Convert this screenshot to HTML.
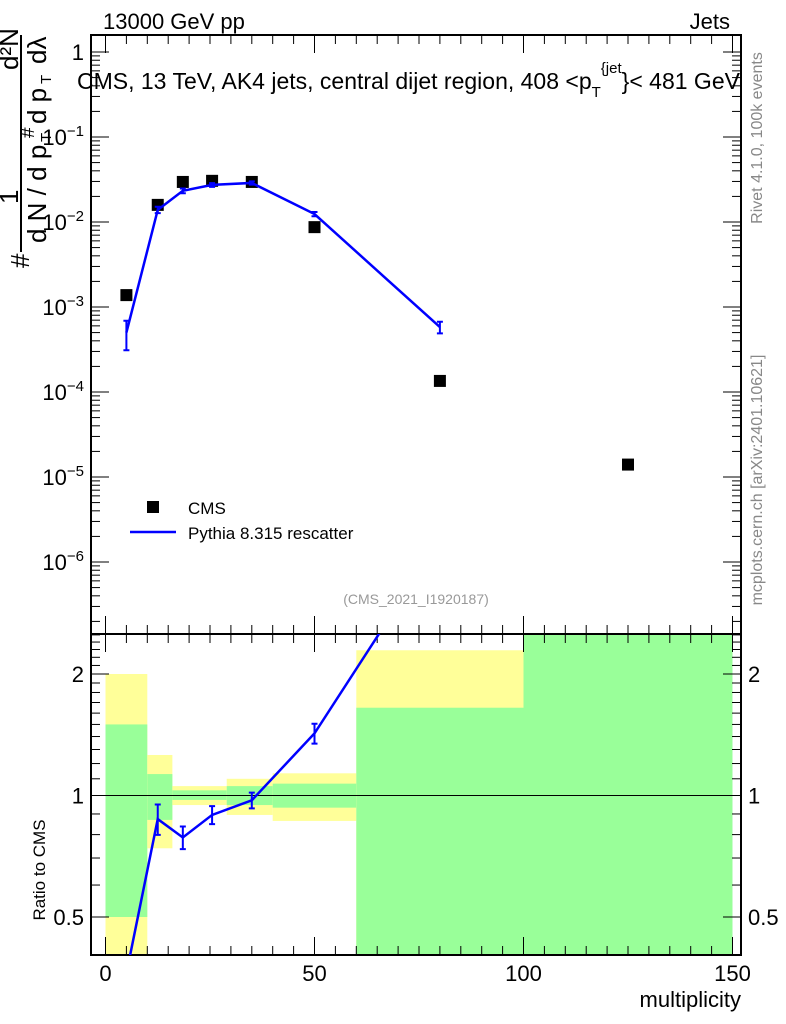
<!DOCTYPE html>
<html><head><meta charset="utf-8"><style>
body{margin:0;background:#fff}svg{display:block;font-family:"Liberation Sans",sans-serif}
</style></head><body>
<svg id="c" width="786" height="1024"></svg>
<script>
const cmsX=[5,12.5,18.5,25.5,35,50,80,125];
const cmsY=[1.38e-3,0.0159,0.0296,0.0305,0.0296,0.0087,1.35e-4,1.4e-5];
const pyX=[5,12.5,18.5,25.5,35,50,80];
const pyY=[5.0e-4,0.0139,0.0233,0.0273,0.0288,0.0124,5.8e-4];
const pyErr=[1.9e-4,0.0012,0.0015,0.0014,0.0013,0.0007,0.9e-4];
const binEdges=[0,10,16,29,40,60,100,150];
const yelLo=[0.3,0.74,0.947,0.895,0.865,0.3,0.3];
const yelHi=[2.0,1.26,1.055,1.10,1.135,2.29,3];
const grnLo=[0.5,0.87,0.975,0.947,0.933,0.3,0.3];
const grnHi=[1.5,1.13,1.03,1.055,1.07,1.65,3];
const xTicks=[0,50,100,150];
const yTopTicks=[0,-1,-2,-3,-4,-5,-6];
const ratioTicks=[0.5,1,2];

const NS="http://www.w3.org/2000/svg",svg=document.getElementById('c');
function el(t,a,p){const e=document.createElementNS(NS,t);for(const k in a)e.setAttribute(k,a[k]);(p||svg).appendChild(e);return e;}
const L=91,R=741,T=35,M=634,B=955;
const X=v=>105.5+v*4.18;
const YT=v=>52-85*Math.log10(v);
const YR=v=>795.5-403.6*Math.log10(v);
const defs=el('defs',{});
const c1=el('clipPath',{id:'ct'},defs);el('rect',{x:L,y:T,width:R-L,height:M-T},c1);
const c2=el('clipPath',{id:'cr'},defs);el('rect',{x:L,y:M,width:R-L,height:B-M},c2);
const bands=el('g',{'clip-path':'url(#cr)'});

for(let i=0;i<binEdges.length-1;i++){
 const x0=X(binEdges[i]),x1=X(binEdges[i+1]);
 const y=el('rect',{x:x0,y:YR(yelHi[i]),width:x1-x0,height:YR(yelLo[i])-YR(yelHi[i]),fill:'#ffff99'},bands);
 
 const g=el('rect',{x:x0,y:YR(grnHi[i]),width:x1-x0,height:YR(grnLo[i])-YR(grnHi[i]),fill:'#99ff99'},bands);
 
}
el('line',{x1:L,x2:R,y1:YR(1),y2:YR(1),stroke:'#000','stroke-width':1});
el('rect',{x:L,y:T,width:R-L,height:M-T,fill:'none',stroke:'#000','stroke-width':2});
el('rect',{x:L,y:M,width:R-L,height:B-M,fill:'none',stroke:'#000','stroke-width':2});
for(let v=0;v<=150;v+=5){const big=v%50==0,len=big?18:9,x=X(v);
 el('line',{x1:x,x2:x,y1:M,y2:M-len,stroke:'#000'});el('line',{x1:x,x2:x,y1:M,y2:M+len,stroke:'#000'});
 el('line',{x1:x,x2:x,y1:T,y2:T+len,stroke:'#000'});el('line',{x1:x,x2:x,y1:B,y2:B-len,stroke:'#000'});}
xTicks.forEach(v=>{const t=el('text',{x:X(v),y:981,'font-size':22,'text-anchor':'middle'});t.textContent=v;
 });
for(let d=0;d>=-7;d--){for(let m=1;m<10;m++){const v=m*Math.pow(10,d),y=YT(v);if(y<T||y>M)continue;
 const len=m==1?18:9;el('line',{x1:L,x2:L+len,y1:y,y2:y,stroke:'#000'});el('line',{x1:R,x2:R-len,y1:y,y2:y,stroke:'#000'});}}
yTopTicks.forEach(d=>{const t=el('text',{x:84,y:YT(Math.pow(10,d))+8,'font-size':22,'text-anchor':'end'});
 
 if(d==0)t.textContent='1';else{t.textContent='10';const s=el('tspan',{dy:-9,'font-size':15},t);s.textContent='\u2212'+(-d);}});
[0.4,0.5,0.6,0.7,0.8,0.9,1,1.1,1.2,1.3,1.4,1.5,1.6,1.7,1.8,1.9,2,2.1,2.2,2.3,2.4,2.5].forEach(v=>{const y=YR(v);if(y<M||y>B)return;
 const len=ratioTicks.includes(v)?18:9;el('line',{x1:L,x2:L+len,y1:y,y2:y,stroke:'#000'});el('line',{x1:R,x2:R-len,y1:y,y2:y,stroke:'#000'});});
ratioTicks.forEach(v=>{[[84,'end'],[748,'start']].forEach(([x,a])=>{const t=el('text',{x:x,y:YR(v)+8,'font-size':22,'text-anchor':a});t.textContent=v;
 });});
const gc=el('g',{'clip-path':'url(#ct)'});
cmsX.forEach((x,i)=>{const r=el('rect',{x:X(x)-6,y:YT(cmsY[i])-6,width:12,height:12,fill:'#000'},gc);
 });
const gp=el('g',{'clip-path':'url(#ct)'});
const pl=el('polyline',{points:pyX.map((x,i)=>X(x)+','+YT(pyY[i])).join(' '),fill:'none',stroke:'#0000ff','stroke-width':2.5},gp);

pyX.forEach((x,i)=>{const xx=X(x),y1=YT(pyY[i]+pyErr[i]),y2=YT(pyY[i]-pyErr[i]);
 el('path',{d:`M${xx},${y1}V${y2}M${xx-3},${y1}H${xx+3}M${xx-3},${y2}H${xx+3}`,stroke:'#0000ff','stroke-width':2,fill:'none'},gp);});
const gr=el('g',{'clip-path':'url(#cr)'});
const rl=el('polyline',{points:pyX.map((x,i)=>X(x)+','+YR(pyY[i]/cmsY[i])).join(' '),fill:'none',stroke:'#0000ff','stroke-width':2.5},gr);

pyX.forEach((x,i)=>{const r=pyY[i]/cmsY[i],e=pyErr[i]/cmsY[i];if(YR(r)>B)return;const xx=X(x),y1=YR(r+e),y2=YR(r-e);
 el('path',{d:`M${xx},${y1}V${y2}M${xx-3},${y1}H${xx+3}M${xx-3},${y2}H${xx+3}`,stroke:'#0000ff','stroke-width':2,fill:'none'},gr);});
</script>
<svg width="786" height="1024" style="position:absolute;left:0;top:0" font-family="Liberation Sans, sans-serif">
<text x="103" y="29" font-size="22">13000 GeV pp</text>
<text x="730" y="29" font-size="22" text-anchor="end">Jets</text>
<text x="77" y="89" font-size="23">CMS, 13 TeV, AK4 jets, central dijet region, 408 &lt;p<tspan font-size="15" dy="8">T</tspan><tspan font-size="15" dy="-24">{jet</tspan><tspan dy="16">}&lt; 481 GeV</tspan></text>
<g transform="translate(0,270) rotate(-90)" font-size="26">
<text x="2" y="29">#</text>
<line x1="18" x2="235" y1="21" y2="21" stroke="#000" stroke-width="2"/>
<text x="66" y="18">1</text>
<text x="200" y="18">d²N</text>
<text x="27" y="46">d N / d p</text><text x="128" y="51" font-size="15">T</text>
<text x="132" y="34" font-size="19">#</text>
<text x="146" y="46">d p</text><text x="186" y="51" font-size="15">T</text>
<text x="206" y="46">dλ</text></g>
<text transform="translate(45,870) rotate(-90)" font-size="17" text-anchor="middle">Ratio to CMS</text>
<text x="741" y="1007" font-size="22" text-anchor="end">multiplicity</text>
<text transform="translate(762,138) rotate(-90)" font-size="16" fill="#888" text-anchor="middle">Rivet 4.1.0,  100k events</text>
<text transform="translate(762,480) rotate(-90)" font-size="16" fill="#888" text-anchor="middle">mcplots.cern.ch [arXiv:2401.10621]</text>
<text x="416" y="604" font-size="14" fill="#999" text-anchor="middle">(CMS_2021_I1920187)</text>
<g><rect x="147" y="501" width="12" height="12" fill="#000"/>
<text x="188" y="514" font-size="17">CMS</text>
<line x1="130" x2="176" y1="532" y2="532" stroke="#0000ff" stroke-width="2.5"/>
<text x="188" y="539" font-size="17">Pythia 8.315 rescatter</text></g>
</svg>
</body></html>
